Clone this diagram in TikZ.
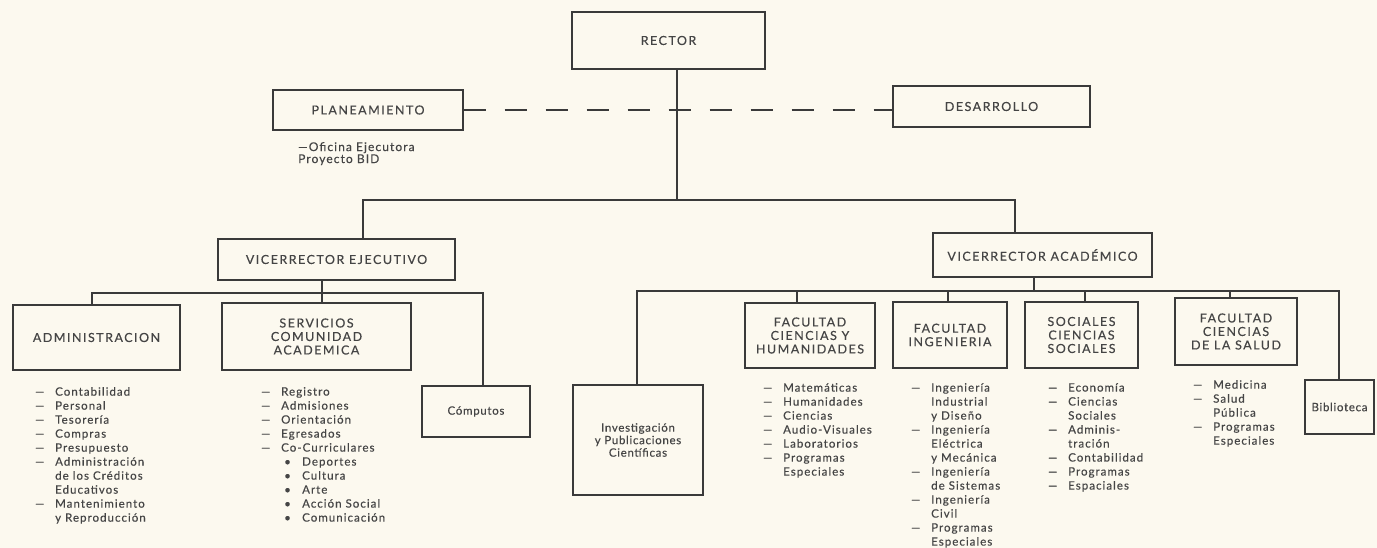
\documentclass[tikz,border=0pt]{standalone}
\usepackage{fontspec}
\setmainfont{Lato}
\newfontfamily\titlefont[LetterSpace=12,FakeBold=0.3]{Lato}
\newfontfamily\listfont[LetterSpace=9,FakeBold=0.3]{Lato}
\newfontfamily\boxlfont[LetterSpace=6,FakeBold=0.3]{Lato}
\definecolor{bgc}{HTML}{FCF9EF}
\definecolor{linec}{HTML}{3A3A3A}
\definecolor{txtc}{HTML}{454545}
\newcommand\dsh{\makebox[20pt][l]{\textemdash}}
\newcommand\cnt{\hspace*{20pt}}
\newcommand\blt{\hspace*{23pt}\makebox[18pt][l]{\textbullet}}
\begin{document}
\begin{tikzpicture}[x=1pt,y=-1pt,
  box/.style={draw=linec, line width=1.4pt, inner sep=0pt, text=txtc, align=center,
    font={\titlefont\fontsize{12.5}{13.5}\selectfont}},
  lbox/.style={box, font={\boxlfont\fontsize{11.5}{12.5}\selectfont}},
  conn/.style={draw=linec, line width=1.3pt},
  lst/.style={anchor=north west, inner sep=0pt, align=left, text=txtc,
    font={\listfont\fontsize{11.5}{14}\selectfont}}]
\useasboundingbox (0,0) rectangle (1377,548);
\fill[bgc] (0,0) rectangle (1377,548);

% boxes
\node[box, minimum width=193pt, minimum height=57pt] (rector) at (668.5,40.5) {RECTOR};
\node[box, minimum width=190pt, minimum height=40pt] (plan) at (368,110) {PLANEAMIENTO};
\node[box, minimum width=197pt, minimum height=41pt] (des) at (991.5,106.5) {DESARROLLO};
\node[box, minimum width=237pt, minimum height=41pt] (vej) at (336.5,259.5) {VICERRECTOR EJECUTIVO};
\node[box, minimum width=219pt, minimum height=44pt] (vac) at (1042.5,255) {VICERRECTOR ACADÉMICO};
\node[box, minimum width=167pt, minimum height=65pt] (adm) at (96.5,337.5) {ADMINISTRACION};
\node[box, minimum width=189pt, minimum height=67pt] (serv) at (316.5,336.5) {SERVICIOS\\COMUNIDAD\\ACADEMICA};
\node[lbox, minimum width=108pt, minimum height=51pt] (comp) at (476,411.5) {Cómputos};
\node[lbox, minimum width=130pt, minimum height=110pt] (inv) at (638,440) {Investigación\\y Publicaciones\\Científicas};
\node[box, minimum width=130pt, minimum height=65pt] (fch) at (810,335.5) {FACULTAD\\CIENCIAS Y\\HUMANIDADES};
\node[box, minimum width=114pt, minimum height=66pt] (fing) at (950,335) {FACULTAD\\INGENIERIA};
\node[box, minimum width=113pt, minimum height=66pt] (soc) at (1081.5,335) {SOCIALES\\CIENCIAS\\SOCIALES};
\node[box, minimum width=122pt, minimum height=67pt] (fsal) at (1236,331.5) {FACULTAD\\CIENCIAS\\DE LA SALUD};
\node[lbox, minimum width=69pt, minimum height=54pt] (bib) at (1339.5,407) {Biblioteca};

% connectors
\coordinate (jR) at (677,200);
\draw[conn] (rector.south -| jR) -- (jR);
\draw[conn] ([xshift=26.5pt]vej.north) |- (jR) -| ([xshift=-27.5pt]vac.north);
\draw[conn, dash pattern=on 22pt off 19pt] (plan.east) -- (plan.east -| des.west);

\coordinate (jE) at (322,293);
\draw[conn] (vej.south -| jE) -- (jE);
\draw[conn] ([xshift=-4.5pt]adm.north) |- (jE) -| ([xshift=7pt]comp.north);
\draw[conn] (jE) -- (jE |- serv.north);

\coordinate (jA) at (1034,291);
\draw[conn] (vac.south -| jA) -- (jA);
\draw[conn] ([xshift=-1pt]inv.north) |- (jA) -| ([xshift=-0.5pt]bib.north);
\draw[conn] ([xshift=-13pt]fch.north) -- ([xshift=-13pt]fch.north |- jA);
\draw[conn] ([xshift=-2pt]fing.north) -- ([xshift=-2pt]fing.north |- jA);
\draw[conn] ([xshift=3.5pt]soc.north) -- ([xshift=3.5pt]soc.north |- jA);
\draw[conn] ([xshift=-6pt]fsal.north) -- ([xshift=-6pt]fsal.north |- jA);

% lists
\node[lst, font={\listfont\fontsize{12}{12}\selectfont}] (plannote) at (298,142) {\textemdash Oficina Ejecutora\\Proyecto BID};

\node[lst] (admlist) at (35,387) {\dsh Contabilidad\\\dsh Personal\\\dsh Tesorería\\\dsh Compras\\\dsh Presupuesto\\\dsh Administración\\\cnt de los Créditos\\\cnt Educativos\\\dsh Mantenimiento\\\cnt y Reproducción};

\node[lst] (servlist) at (261,387) {\dsh Registro\\\dsh Admisiones\\\dsh Orientación\\\dsh Egresados\\\dsh Co-Curriculares\\\blt Deportes\\\blt Cultura\\\blt Arte\\\blt Acción Social\\\blt Comunicación};

\node[lst] (fchlist) at (763,383) {\dsh Matemáticas\\\dsh Humanidades\\\dsh Ciencias\\\dsh Audio-Visuales\\\dsh Laboratorios\\\dsh Programas\\\cnt Especiales};

\node[lst] (finglist) at (911,383) {\dsh Ingeniería\\\cnt Industrial\\\cnt y Diseño\\\dsh Ingeniería\\\cnt Eléctrica\\\cnt y Mecánica\\\dsh Ingeniería\\\cnt de Sistemas\\\dsh Ingeniería\\\cnt Civil\\\dsh Programas\\\cnt Especiales};

\node[lst] (soclist) at (1048,383) {\dsh Economía\\\dsh Ciencias\\\cnt Sociales\\\dsh Adminis-\\\cnt tración\\\dsh Contabilidad\\\dsh Programas\\\dsh Espaciales};

\node[lst] (fsallist) at (1193,380) {\dsh Medicina\\\dsh Salud\\\cnt Pública\\\dsh Programas\\\cnt Especiales};
\end{tikzpicture}
\end{document}
